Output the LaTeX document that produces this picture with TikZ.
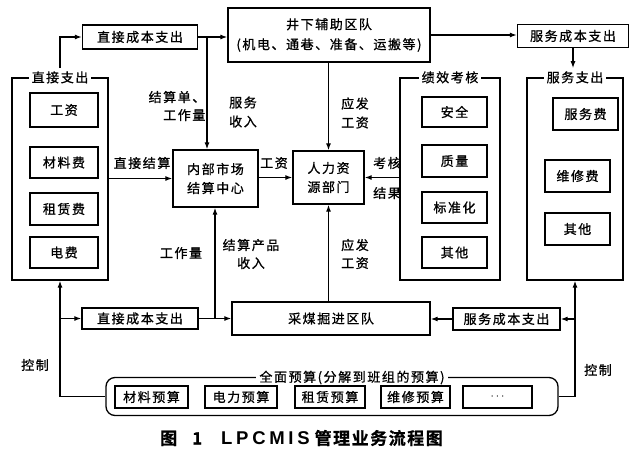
\documentclass[tikz,border=0pt]{standalone}
\usepackage{fontspec}
\setmainfont{Noto Sans CJK SC}[LetterSpace=12,FakeBold=0.9,BoldFont={Noto Sans CJK SC Bold}]
\newfontfamily\capfont{Liberation Sans}[LetterSpace=20]
\usetikzlibrary{arrows.meta, positioning}

\begin{document}
\begin{tikzpicture}[x=1pt, y=-1pt,
        box/.style={draw, line width=1.3pt, inner sep=0pt, font=\fontsize{13}{16}\selectfont},
        grp/.style={draw, line width=1.3pt, inner sep=0pt},
        tag/.style={fill=white, inner sep=3pt, font=\fontsize{13}{16}\selectfont},
        lbl/.style={inner sep=0pt, align=center, font=\fontsize{13}{19}\selectfont},
        arr/.style={line width=1.2pt, -{Latex[length=7pt,width=5pt]}}]
            \useasboundingbox (0,0) rectangle (640,456);
            \node[box, minimum width=115pt, minimum height=24pt] (cb1) at (140, 37) {直接成本支出};
            \node[box, minimum width=202pt, minimum height=54pt, align=center, font=\fontsize{13}{20}\selectfont] (jx) at (329, 35) {井下辅助区队\\(机电、通巷、准备、运搬等)};
            \node[box, minimum width=111pt, minimum height=23pt] (fw1) at (573, 36) {服务成本支出};
            \node[box, minimum width=85pt, minimum height=57pt, align=center, font=\fontsize{13}{19}\selectfont] (scjs) at (215.5, 178.5) {内部市场\\结算中心};
            \node[box, minimum width=71pt, minimum height=53pt, align=center, font=\fontsize{13}{19}\selectfont] (rl) at (328.5, 177.5) {人力资\\源部门};
            \node[box, minimum width=198pt, minimum height=33pt] (cm) at (331, 318.5) {采煤掘进区队};
            \node[box, minimum width=116pt, minimum height=21pt] (cb2) at (140, 318.5) {直接成本支出};
            \node[box, minimum width=107pt, minimum height=22pt] (fw2) at (506.5, 319) {服务成本支出};

            \node[grp, minimum width=96pt, minimum height=202pt] (zjzc) at (60, 179) {};
            \node[tag] (tzjzc) at (zjzc.north) {直接支出};
            \node[box, minimum width=68pt, minimum height=34pt] (gz) at (64, 110) {工资};
            \node[box, minimum width=68pt, minimum height=31pt] (clf) at (64, 162.5) {材料费};
            \node[box, minimum width=68pt, minimum height=32pt] (zlf) at (64, 209) {租赁费};
            \node[box, minimum width=68pt, minimum height=31pt] (df) at (64, 252.5) {电费};

            \node[grp, minimum width=100pt, minimum height=202pt] (jxkh) at (450, 179) {};
            \node[tag] (tjxkh) at (jxkh.north) {绩效考核};
            \node[box, minimum width=65pt, minimum height=30pt] (aq) at (454.5, 112) {安全};
            \node[box, minimum width=65pt, minimum height=32pt] (zl) at (454.5, 161) {质量};
            \node[box, minimum width=65pt, minimum height=31pt] (bzh) at (454.5, 207.5) {标准化};
            \node[box, minimum width=65pt, minimum height=31pt] (qt1) at (454.5, 252.5) {其他};

            \node[grp, minimum width=96pt, minimum height=202pt] (fwzc) at (575, 179) {};
            \node[tag] (tfwzc) at (fwzc.north) {服务支出};
            \node[box, minimum width=65pt, minimum height=32pt] (fwf) at (585.5, 114) {服务费};
            \node[box, minimum width=65pt, minimum height=32pt] (wxf) at (577.5, 176) {维修费};
            \node[box, minimum width=65pt, minimum height=32pt] (qt2) at (577.5, 229) {其他};

            \node[grp, rounded corners=9pt, minimum width=452pt, minimum height=38pt] (qm) at (332, 396.5) {};
            \node[tag] (tqm) at (352, 377.5) {全面预算(分解到班组的预算)};
            \node[box, minimum width=73pt, minimum height=22pt] (ys1) at (151.5, 397) {材料预算};
            \node[box, minimum width=72pt, minimum height=22pt] (ys2) at (241, 397) {电力预算};
            \node[box, minimum width=70pt, minimum height=22pt] (ys3) at (330, 397) {租赁预算};
            \node[box, minimum width=69pt, minimum height=22pt] (ys4) at (415.5, 397) {维修预算};
            \node[box, minimum width=69pt, minimum height=22pt] (ys5) at (497.5, 397) {$\cdots$};

            \draw[arr] (tzjzc.north) |- (cb1.west);
            \draw[arr] (cb1.east) -- (cb1.east -| jx.west);
            \coordinate (b1) at (207, 37);
            \draw[arr] (b1) -- (b1 |- scjs.north);
            \draw[arr] (jx.east) -- (jx.east -| fw1.west);
            \draw[arr] (fw1.south) -- (fw1.south |- tfwzc.north);
            \draw[arr] (jx.south -| rl.north) -- (rl.north);
            \draw[arr] (zjzc.east |- scjs.west) -- (scjs.west);
            \draw[arr] (scjs.east |- rl.west) -- (rl.west);
            \draw[arr] (jxkh.west |- rl.east) -- (rl.east);
            \draw[arr] (cm.north -| rl.south) -- (rl.south);
            \draw[arr] (cb2.east) -- (cm.west |- cb2.east);
            \coordinate (b2) at (215, 318.5);
            \draw[arr] (b2) -- (b2 |- scjs.south);
            \draw[arr] (fw2.west) -- (cm.east |- fw2.west);
            \draw[arr] (qm.west) -| (zjzc.south);
            \draw[arr] (cb2.west -| zjzc.south) -- (cb2.west);
            \draw[arr] (qm.east) -| (fwzc.south);
            \draw[arr] (fw2.east -| fwzc.south) -- (fw2.east);

            \node[lbl, align=right, font=\fontsize{13}{18}\selectfont] (l1) at (177, 106) {结算单、\\工作量};
            \node[lbl] (l2) at (243, 112) {服务\\收入};
            \node[lbl] (l3) at (355, 113) {应发\\工资};
            \node[lbl] (l4) at (142, 163) {直接结算};
            \node[lbl] (l5) at (274, 163) {工资};
            \node[lbl] (l6) at (387, 163) {考核};
            \node[lbl] (l7) at (387, 193) {结果};
            \node[lbl] (l8) at (181, 253) {工作量};
            \node[lbl, font=\fontsize{13}{18}\selectfont] (l9) at (251, 254) {结算产品\\收入};
            \node[lbl, font=\fontsize{13}{18}\selectfont] (l10) at (355, 254) {应发\\工资};
            \node[lbl] (l11) at (35, 365) {控制};
            \node[lbl] (l12) at (598, 370) {控制};

            \node[anchor=west, inner sep=0pt, font=\bfseries\fontsize{17}{19}\selectfont] (title) at (160, 438) {{\addfontfeatures{LetterSpace=0}图\hspace{15pt}1\hspace{19pt}}{\capfont\bfseries\fontsize{18.5}{19}\selectfont LPCMIS}\hspace{5pt}{\addfontfeatures{LetterSpace=9}管理业务流程图}};
\end{tikzpicture}
\end{document}
